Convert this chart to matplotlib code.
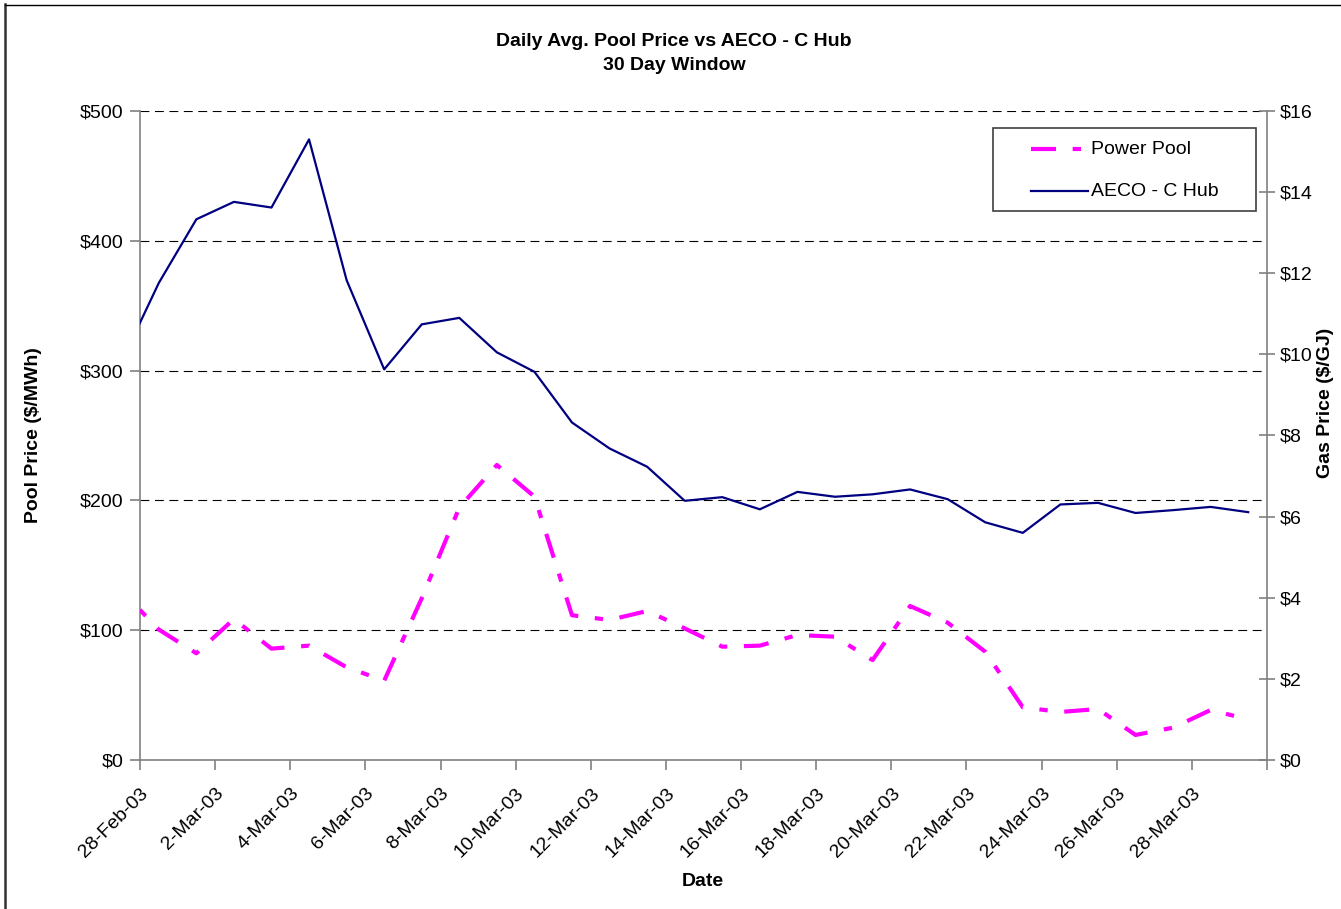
import matplotlib
matplotlib.use("Agg")
import matplotlib.pyplot as plt
import pandas as pd
from matplotlib.lines import Line2D
from matplotlib.patches import Rectangle

plt.rcParams['font.family'] = ['Liberation Sans', 'DejaVu Sans']

# Data: one value per day, starting 27-Feb-03 (first point clipped by the axis)
start_date = "2003-02-27"
pool_price = [130.7, 100.5, 82.2, 108.6, 85.8, 88.1, 71.4, 61.1, 124.6, 194.5,
              227.3, 202.9, 111.5, 107.9, 114.8, 101.4, 87.3, 88.1, 96.3, 95.0,
              77.0, 118.6, 105.8, 83.4, 40.6, 37.0, 39.3, 19.3, 24.9, 38.5, 31.3]
gas_price = [9.80, 11.76, 13.33, 13.76, 13.62, 15.30, 11.83, 9.63, 10.74, 10.90,
             10.05, 9.57, 8.32, 7.68, 7.23, 6.39, 6.48, 6.18, 6.61, 6.49,
             6.55, 6.67, 6.43, 5.86, 5.60, 6.30, 6.34, 6.09, 6.16, 6.24, 6.11]
series_names = ["Power Pool", "AECO - C Hub"]
left_ticks = [0, 100, 200, 300, 400, 500]
left_tick_labels = ["$0", "$100", "$200", "$300", "$400", "$500"]
right_ticks = [0, 2, 4, 6, 8, 10, 12, 14, 16]
right_tick_labels = ["$0", "$2", "$4", "$6", "$8", "$10", "$12", "$14", "$16"]

dates = pd.date_range(start_date, periods=len(pool_price), freq="D")
xpos = dates + pd.Timedelta(hours=12)  # plotted between tick marks

W, H = 1341, 909
fig = plt.figure(figsize=(W / 100, H / 100), dpi=100)
L, R, T, B = 140, 1267, 111, 760
ax = fig.add_axes([L / W, 1 - B / H, (R - L) / W, (B - T) / H])
ax2 = ax.twinx()

def px(x, y):
    """figure pixel (from top-left) -> figure fraction"""
    return x / W, 1 - y / H

grey = "#808080"
pink = "#FF00FF"
navy = "#000080"
pink_dash = (6, 4, 2, 4)

ax.set_ylim(0, 500)
ax2.set_ylim(0, 16)
ax.set_xlim(pd.Timestamp("2003-02-28"), pd.Timestamp("2003-03-30"))

# gridlines
for v in left_ticks[1:]:
    ax.axhline(v, color="black", lw=0.8, ls=(0, (8, 5)), zorder=1)

ax.plot(xpos, pool_price, color=pink, lw=3, ls=(3.5, pink_dash),
        dash_capstyle="butt", zorder=3)
ax2.plot(xpos, gas_price, color=navy, lw=1.6, zorder=4)
ax.set_zorder(1)
ax2.set_zorder(2)
ax2.patch.set_visible(False)

# spines
for a in (ax, ax2):
    a.spines["top"].set_visible(False)
    for s in ("left", "right", "bottom"):
        a.spines[s].set_color(grey)
        a.spines[s].set_linewidth(1.2)
ax.spines["right"].set_visible(False)
ax2.spines["left"].set_visible(False)
ax2.spines["bottom"].set_visible(False)

ax.set_yticks(left_ticks)
ax.set_yticklabels(left_tick_labels)
ax2.set_yticks(right_ticks)
ax2.set_yticklabels(right_tick_labels)

xt = pd.date_range("2003-02-28", "2003-03-30", freq="2D")
ax.set_xticks(xt)
ax.set_xticklabels([f"{d.day}-{d.strftime('%b')}-03" if d < pd.Timestamp("2003-03-30") else "" for d in xt],
                   rotation=45, ha="right", va="top", rotation_mode="anchor")

ax.tick_params(axis="y", direction="out", length=7, width=1.2, color=grey, labelsize=14, pad=5)
ax.tick_params(axis="x", direction="out", length=7, width=1.2, color=grey, labelsize=14, pad=11)
ax2.tick_params(axis="y", direction="inout", length=11, width=1.2, color=grey, labelsize=14, pad=4)

ax.set_ylabel("Pool Price ($/MWh)", fontsize=14, fontweight="bold")
ax.yaxis.set_label_coords((42 - L) / (R - L), 0.5)
ax2.set_ylabel("Gas Price ($/GJ)", fontsize=14, fontweight="bold", rotation=90)
ax2.yaxis.set_label_coords((1317 - L) / (R - L), (B - 403) / (B - T))
ax.set_xlabel("Date", fontsize=14, fontweight="bold")
ax.xaxis.set_label_coords((703 - L) / (R - L), -(873 - B) / (B - T))

fig.text(*px(674, 42), "Daily Avg. Pool Price vs AECO - C Hub", ha="center", va="center",
         fontsize=14, fontweight="bold")
fig.text(*px(674, 66), "30 Day Window", ha="center", va="center",
         fontsize=14, fontweight="bold")

# legend box (drawn manually to match the reference layout)
x0, y0 = px(993, 211)
x1, y1 = px(1256, 128)
fig.add_artist(Rectangle((x0, y0), x1 - x0, y1 - y0, transform=fig.transFigure,
                         facecolor="white", edgecolor="#404040", lw=1.2, zorder=10))
for (yy, name, col, lw, dsh) in [(149, series_names[0], pink, 3, pink_dash),
                                 (191, series_names[1], navy, 1.6, None)]:
    xa, ya = px(1031, yy)
    xb, _ = px(1088, yy)
    kw = dict(color=col, lw=lw, transform=fig.transFigure, zorder=11)
    if dsh:
        kw.update(dashes=dsh, dash_capstyle="butt")
    fig.add_artist(Line2D([xa, xb], [ya, ya], **kw))
    fig.text(*px(1091, yy), name, ha="left", va="center", fontsize=14, zorder=12)

# figure frame (left and top edges)
fig.add_artist(Line2D([5 / W, 5 / W], [0, 1 - 4 / H], color="#333333", lw=1.8, transform=fig.transFigure))
fig.add_artist(Line2D([5 / W, 1], [1 - 4.5 / H, 1 - 4.5 / H], color="black", lw=1.0, transform=fig.transFigure))

fig.savefig("out.png", dpi=100)
